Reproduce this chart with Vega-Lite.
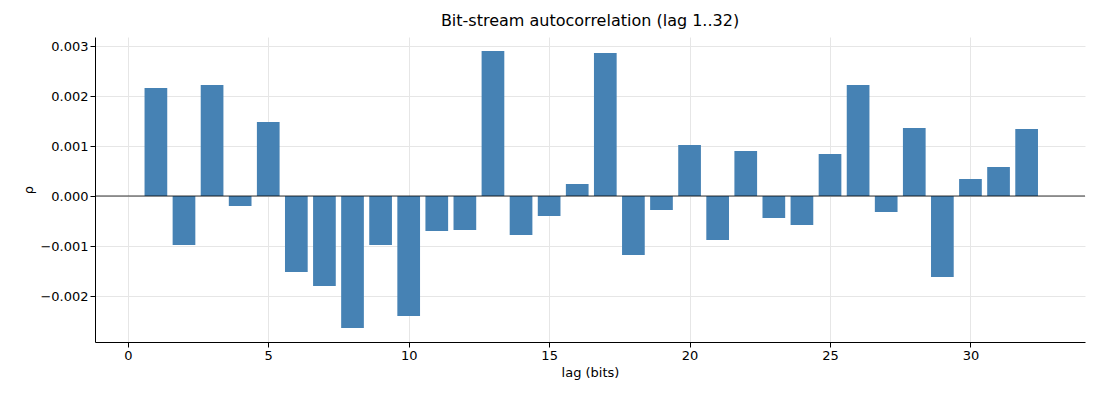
{
  "$schema": "https://vega.github.io/schema/vega-lite/v6.json",
  "width": 990,
  "height": 305,
  "autosize": "none",
  "padding": {"left": 95, "top": 37, "right": 15, "bottom": 58},
  "title": {"text": "Bit-stream autocorrelation (lag 1..32)", "fontSize": 16, "fontWeight": "normal", "font": "DejaVu Sans", "offset": 8},
  "config": {
    "view": {"stroke": null},
    "axis": {"labelFont": "DejaVu Sans", "titleFont": "DejaVu Sans", "labelFontSize": 13, "titleFontSize": 13, "titleFontWeight": "normal", "gridColor": "#e6e6e6", "domainColor": "black", "tickColor": "black", "labelColor": "black", "titleColor": "black"}
  },
  "data": {"values": [
    {"lag": 1, "rho": 0.00216}, {"lag": 2, "rho": -0.00098}, {"lag": 3, "rho": 0.00222}, {"lag": 4, "rho": -0.0002},
    {"lag": 5, "rho": 0.00148}, {"lag": 6, "rho": -0.00152}, {"lag": 7, "rho": -0.0018}, {"lag": 8, "rho": -0.00264},
    {"lag": 9, "rho": -0.00098}, {"lag": 10, "rho": -0.0024}, {"lag": 11, "rho": -0.0007}, {"lag": 12, "rho": -0.00068},
    {"lag": 13, "rho": 0.0029}, {"lag": 14, "rho": -0.00078}, {"lag": 15, "rho": -0.0004}, {"lag": 16, "rho": 0.00024},
    {"lag": 17, "rho": 0.00286}, {"lag": 18, "rho": -0.00118}, {"lag": 19, "rho": -0.00028}, {"lag": 20, "rho": 0.00102},
    {"lag": 21, "rho": -0.00088}, {"lag": 22, "rho": 0.0009}, {"lag": 23, "rho": -0.00044}, {"lag": 24, "rho": -0.00058},
    {"lag": 25, "rho": 0.00084}, {"lag": 26, "rho": 0.00222}, {"lag": 27, "rho": -0.00032}, {"lag": 28, "rho": 0.00136},
    {"lag": 29, "rho": -0.00162}, {"lag": 30, "rho": 0.00034}, {"lag": 31, "rho": 0.00058}, {"lag": 32, "rho": 0.00134}
  ]},
  "layer": [
    {
      "mark": {"type": "bar", "width": 22.7, "color": "steelblue"},
      "encoding": {
        "x": {"field": "lag", "type": "quantitative", "title": "lag (bits)", "scale": {"domain": [-0.99, 33.9], "nice": false, "zero": false}, "axis": {"values": [0, 5, 10, 15, 20, 25, 30], "format": "d", "labelFlush": false}},
        "y": {"field": "rho", "type": "quantitative", "title": "ρ", "scale": {"domain": [-0.00292, 0.00318], "nice": false}, "axis": {"values": [-0.002, -0.001, 0, 0.001, 0.002, 0.003], "format": ".3f", "labelFlush": false}}
      }
    },
    {
      "data": {"values": [{"y": 0}]},
      "mark": {"type": "rule", "color": "black", "strokeWidth": 0.8},
      "encoding": {"y": {"field": "y", "type": "quantitative"}}
    }
  ]
}
